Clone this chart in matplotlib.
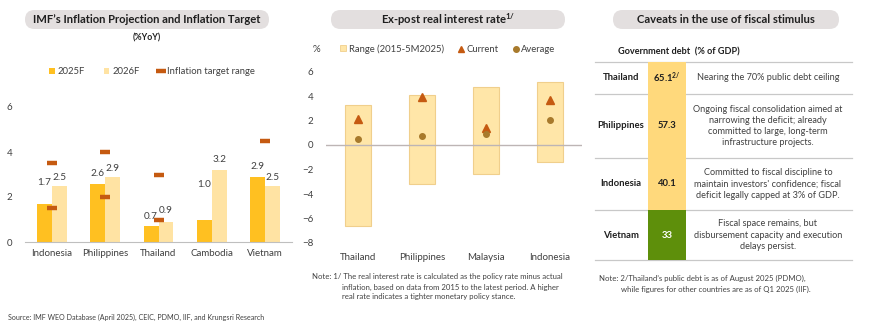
import numpy as np
import matplotlib
matplotlib.use('Agg')
import matplotlib.pyplot as plt
from matplotlib.patches import FancyBboxPatch, Rectangle
from matplotlib.lines import Line2D

plt.rcParams['font.family'] = ['Lato', 'DejaVu Sans']
plt.rcParams['mathtext.fontset'] = 'custom'
plt.rcParams['mathtext.rm'] = 'Lato'
plt.rcParams['mathtext.it'] = 'Lato:italic'
plt.rcParams['mathtext.bf'] = 'Lato:bold'

# ── DATA ──────────────────────────────────────────────────────────────────────
infl_countries = ['Indonesia', 'Philippines', 'Thailand', 'Cambodia', 'Vietnam']
infl_2025 = [1.7, 2.6, 0.7, 1.0, 2.9]
infl_2026 = [2.5, 2.9, 0.9, 3.2, 2.5]
target_hi = [3.5, 4.0, 3.0, np.nan, 4.5]
target_lo = [1.5, 2.0, 1.0, np.nan, np.nan]

rr_countries = ['Thailand', 'Philippines', 'Malaysia', 'Indonesia']
rr_low = [-6.6, -3.15, -2.4, -1.35]
rr_high = [3.3, 4.05, 4.75, 5.15]
rr_current = [2.1, 3.95, 1.4, 3.7]
rr_average = [0.45, 0.7, 0.9, 2.05]

debt_countries = ['Thailand', 'Philippines', 'Indonesia', 'Vietnam']
debt_values = ['65.1', '57.3', '40.1', '33']
debt_notes = [
    'Nearing the 70% public debt ceiling',
    'Ongoing fiscal consolidation aimed at\nnarrowing the deficit; already\ncommitted to large, long-term\ninfrastructure projects.',
    "Committed to fiscal discipline to\nmaintain investors' confidence; fiscal\ndeficit legally capped at 3% of GDP.",
    'Fiscal space remains, but\ndisbursement capacity and execution\ndelays persist.',
]

# ── COLORS ────────────────────────────────────────────────────────────────────
C25 = '#FFC021'
C26 = '#FFE3A3'
TARGET = '#C55A11'
RANGE_FC = '#FFE6A8'
RANGE_EC = '#F0CF8C'
AVG = '#A87A2C'
TXT = '#404040'
DARK = '#1F1F1F'
PILL = '#E3DFDF'
GRID = '#BFBFBF'

W, H = 870, 332
fig = plt.figure(figsize=(W / 100, H / 100), dpi=100)
fig.patch.set_facecolor('white')


def px_axes(x0, y0, x1, y1, **kw):
    return fig.add_axes([x0 / W, 1 - y1 / H, (x1 - x0) / W, (y1 - y0) / H], **kw)


# overlay in pixel coords for pills, table and notes
bg = px_axes(0, 0, W, H, zorder=0)
bg.set_xlim(0, W)
bg.set_ylim(H, 0)
bg.axis('off')


def pill(x0, x1, text):
    bg.add_patch(FancyBboxPatch((x0 + 9, 10), x1 - x0 - 18, 19,
                                boxstyle='round,pad=0,rounding_size=9.5',
                                fc=PILL, ec='none'))
    bg.text((x0 + x1) / 2, 19.5, text, ha='center', va='center',
            fontsize=8.1, fontweight='bold', color=DARK)


pill(16, 278, 'IMF\u2019s Inflation Projection and Inflation Target')
pill(322, 574, r'Ex-post real interest rate$^{\mathbf{1/}}$')
pill(604, 848, 'Caveats in the use of fiscal stimulus')

# ── LEFT: INFLATION ───────────────────────────────────────────────────────────
ax1 = px_axes(25, 107, 292, 242)
x = np.arange(len(infl_countries))
bw = 0.28
ax1.bar(x - bw / 2, infl_2025, bw, color=C25, zorder=2)
ax1.bar(x + bw / 2, infl_2026, bw, color=C26, zorder=2)
ax1.plot(x, target_hi, ls='none', marker='_', ms=7, mew=3.2, color=TARGET, zorder=3)
ax1.plot(x, target_lo, ls='none', marker='_', ms=7, mew=3.2, color=TARGET, zorder=3)

off25 = [12, 4, 4, 22, 4]
off26 = [3, 3, 5, 4, 3]
for xi, v, o in zip(x - bw / 2, infl_2025, off25):
    ax1.annotate(f'{v:.1f}', (xi, v), xytext=(0, o), textcoords='offset points',
                 ha='center', va='bottom', fontsize=7.2, color=TXT)
for xi, v, o in zip(x + bw / 2, infl_2026, off26):
    ax1.annotate(f'{v:.1f}', (xi, v), xytext=(0, o), textcoords='offset points',
                 ha='center', va='bottom', fontsize=7.2, color=TXT)

ax1.set_xlim(-0.5, len(infl_countries) - 0.5)
ax1.set_ylim(0, 6)
ax1.set_yticks([0, 2, 4, 6])
ax1.set_xticks(x, infl_countries)
ax1.tick_params(length=0, labelsize=7, colors=TXT)
ax1.tick_params(axis='y', pad=9)
ax1.tick_params(axis='x', pad=5)
for s in ['top', 'right', 'left']:
    ax1.spines[s].set_visible(False)
ax1.spines['bottom'].set_color(GRID)
ax1.patch.set_alpha(0)

bg.text(147, 38, '(%YoY)', ha='center', va='center', fontsize=6.3,
        fontweight='bold', color=DARK)
h1 = [Rectangle((0, 0), 1, 1, fc=C25), Rectangle((0, 0), 1, 1, fc=C26),
      Line2D([], [], ls='none', marker='_', ms=7, mew=3.2, color=TARGET)]
fig.legend(h1, ['2025F', '2026F', 'Inflation target range'],
           loc='center', bbox_to_anchor=(152 / W, 1 - 72 / H), ncol=3,
           frameon=False, fontsize=6.8, handlelength=0.6, handleheight=0.6,
           handletextpad=0.3, columnspacing=2.0, labelcolor=TXT)

# ── MIDDLE: REAL INTEREST RATE ────────────────────────────────────────────────
ax2 = px_axes(326, 71.5, 582, 243)
x2 = np.arange(len(rr_countries))
lo = np.array(rr_low)
hi = np.array(rr_high)
ax2.bar(x2, hi - lo, 0.4, bottom=lo, color=RANGE_FC, ec=RANGE_EC, lw=0.8, zorder=1)
ax2.axhline(0, color='#BDB5B5', lw=1, zorder=2)
ax2.plot(x2, rr_current, ls='none', marker='^', ms=6, color=TARGET, zorder=3)
ax2.plot(x2, rr_average, ls='none', marker='o', ms=4, color=AVG, zorder=3)
ax2.set_xlim(-0.5, len(rr_countries) - 0.5)
ax2.set_ylim(-8, 6)
ax2.set_yticks(range(-8, 7, 2))
ax2.set_xticks(x2, rr_countries)
ax2.tick_params(length=0, labelsize=7, colors=TXT)
ax2.tick_params(axis='y', pad=9)
ax2.tick_params(axis='x', pad=7)
for s in ax2.spines.values():
    s.set_visible(False)
ax2.patch.set_alpha(0)

bg.text(313, 49, '%', ha='left', va='center', fontsize=7, color=TXT)
h2 = [Rectangle((0, 0), 1, 1, fc=RANGE_FC, ec=RANGE_EC, lw=0.6),
      Line2D([], [], ls='none', marker='^', ms=5, color=TARGET),
      Line2D([], [], ls='none', marker='o', ms=4, color=AVG)]
fig.legend(h2, ['Range (2015-5M2025)', 'Current', 'Average'],
           loc='center', bbox_to_anchor=(448 / W, 1 - 49 / H), ncol=3,
           frameon=False, fontsize=6.8, handlelength=0.6, handleheight=0.6,
           handletextpad=0.3, columnspacing=1.5, labelcolor=TXT)

bg.text(312, 277, 'Note: 1/ The real interest rate is calculated as the policy rate minus actual',
        ha='left', va='center', fontsize=5.6, color=TXT)
bg.text(342, 287, 'inflation, based on data from 2015 to the latest period. A higher',
        ha='left', va='center', fontsize=5.6, color=TXT)
bg.text(342, 297, 'real rate indicates a tighter monetary policy stance.',
        ha='left', va='center', fontsize=5.6, color=TXT)

# ── RIGHT: DEBT TABLE ─────────────────────────────────────────────────────────
bg.text(618, 52, 'Government debt  (% of GDP)', ha='left', va='center',
        fontsize=6.6, fontweight='bold', color=DARK)
row_edges = [62, 94, 158, 210, 260]
val_colors = ['#FFD97C', '#FFD97C', '#FFD97C', '#5E8F0B']
val_text = [DARK, DARK, DARK, 'white']
for i, name in enumerate(debt_countries):
    y0, y1 = row_edges[i], row_edges[i + 1]
    yc = (y0 + y1) / 2
    bg.add_patch(Rectangle((648, y0), 38, y1 - y0, fc=val_colors[i], ec='none', zorder=2))
    bg.text(621, yc, name, ha='center', va='center', fontsize=6.8,
            fontweight='bold', color=DARK, zorder=3)
    val = debt_values[i] + (r'$^{\mathbf{2/}}$' if name == 'Thailand' else '')
    bg.text(667, yc, val, ha='center', va='center', fontsize=6.8,
            fontweight='bold', color=val_text[i], zorder=3)
    bg.text(768, yc, debt_notes[i], ha='center', va='center', fontsize=6.6,
            color=TXT, linespacing=1.3, zorder=3)
for y in row_edges:
    bg.plot([595, 852], [y, y], color='#C8C8C8', lw=0.9, zorder=1)

bg.text(599, 278, 'Note: 2/Thailand\u2019s public debt is as of August 2025 (PDMO),',
        ha='left', va='center', fontsize=5.6, color=TXT)
bg.text(621, 289, 'while figures for other countries are as of Q1 2025 (IIF).',
        ha='left', va='center', fontsize=5.6, color=TXT)

bg.text(8, 317, 'Source: IMF WEO Database (April 2025), CEIC, PDMO, IIF, and Krungsri Research',
        ha='left', va='center', fontsize=5.1, color=TXT)

fig.savefig('out.png', dpi=100, facecolor='white')
